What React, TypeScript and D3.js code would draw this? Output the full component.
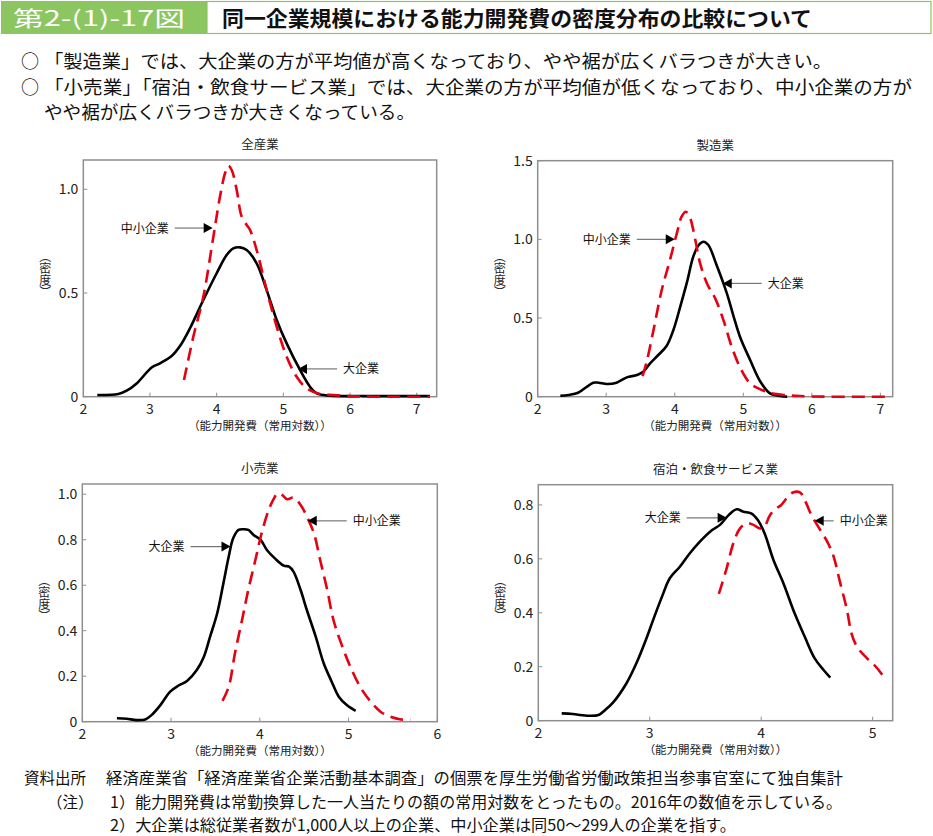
import React from "react";
import * as d3 from "d3";

// ---------- DATA ----------
type Pt = [number, number];

const xTicksAll = [2, 3, 4, 5, 6, 7];
const xTicksRetail = [2, 3, 4, 5, 6];
const xTicksHotel = [2, 3, 4, 5];
const yTicksAll = [0, 0.5, 1.0];
const yTicksMfg = [0, 0.5, 1.0, 1.5];
const yTicksRetail = [0, 0.2, 0.4, 0.6, 0.8, 1.0];
const yTicksHotel = [0, 0.2, 0.4, 0.6, 0.8];

const panelTitles = ["全産業", "製造業", "小売業", "宿泊・飲食サービス業"];
const largeLabel = "大企業";
const smallLabel = "中小企業";

// 全産業
const allLarge: Pt[] = [
  [2.21, 0.008], [2.525, 0.013], [2.65, 0.029], [2.8, 0.064], [3.025, 0.141], [3.15, 0.161],
  [3.325, 0.196], [3.45, 0.244], [3.6, 0.33], [3.8, 0.466], [4.0, 0.595], [4.15, 0.683],
  [4.25, 0.715], [4.35, 0.72], [4.45, 0.707], [4.6, 0.643], [4.75, 0.514], [4.9, 0.37],
  [5.05, 0.257], [5.25, 0.129], [5.4, 0.048], [5.5, 0.016], [5.7, 0.005], [6.2, 0.003], [7.2, 0.003],
];
const allSmall: Pt[] = [
  [3.51, 0.08], [3.65, 0.289], [3.8, 0.482], [3.95, 0.77], [4.05, 0.965], [4.125, 1.077],
  [4.175, 1.113], [4.225, 1.093], [4.3, 0.997], [4.375, 0.868], [4.45, 0.828], [4.5, 0.804],
  [4.6, 0.707], [4.75, 0.514], [4.9, 0.338], [5.05, 0.193], [5.2, 0.096], [5.35, 0.04],
  [5.55, 0.013], [5.75, 0.008], [5.95, 0.003], [6.35, 0.0], [7.2, 0.0],
];

// 製造業
const mfgLarge: Pt[] = [
  [2.33, 0.006], [2.45, 0.011], [2.59, 0.025], [2.72, 0.064], [2.81, 0.089], [2.89, 0.089],
  [3.01, 0.081], [3.15, 0.089], [3.3, 0.123], [3.45, 0.138], [3.54, 0.159], [3.64, 0.212],
  [3.76, 0.265], [3.88, 0.322], [3.98, 0.424], [4.08, 0.572], [4.18, 0.731], [4.27, 0.89],
  [4.35, 0.964], [4.42, 0.985], [4.49, 0.964], [4.61, 0.837], [4.76, 0.657], [4.86, 0.508],
  [4.96, 0.371], [5.1, 0.233], [5.25, 0.095], [5.39, 0.021], [5.54, 0.004], [5.64, 0.0],
];
const mfgSmall: Pt[] = [
  [3.53, 0.131], [3.59, 0.222], [3.69, 0.424], [3.81, 0.678], [3.93, 0.869], [4.03, 1.038],
  [4.1, 1.144], [4.16, 1.176], [4.22, 1.14], [4.3, 0.996], [4.37, 0.847], [4.47, 0.72],
  [4.59, 0.625], [4.71, 0.487], [4.83, 0.318], [4.96, 0.18], [5.1, 0.085], [5.25, 0.047],
  [5.39, 0.025], [5.59, 0.011], [5.83, 0.004], [6.27, 0.0], [7.07, 0.0],
];

// 小売業
const retailLarge: Pt[] = [
  [2.39, 0.015], [2.5, 0.013], [2.61, 0.007], [2.71, 0.01], [2.78, 0.029], [2.88, 0.073],
  [2.99, 0.132], [3.08, 0.158], [3.18, 0.179], [3.29, 0.227], [3.37, 0.286], [3.44, 0.374],
  [3.52, 0.477], [3.59, 0.609], [3.65, 0.726], [3.7, 0.806], [3.76, 0.843], [3.82, 0.846],
  [3.87, 0.843], [3.93, 0.821], [4.01, 0.799], [4.08, 0.755], [4.17, 0.718], [4.27, 0.686],
  [4.33, 0.682], [4.38, 0.66], [4.46, 0.579], [4.53, 0.491], [4.63, 0.374], [4.72, 0.257],
  [4.81, 0.176], [4.89, 0.11], [4.98, 0.073], [5.08, 0.048],
];
const retailSmall: Pt[] = [
  [3.58, 0.092], [3.65, 0.154], [3.72, 0.301], [3.8, 0.447], [3.87, 0.579], [3.95, 0.711],
  [4.02, 0.828], [4.1, 0.931], [4.16, 0.982], [4.2, 1.004], [4.25, 0.997], [4.31, 0.978],
  [4.38, 0.985], [4.46, 0.953], [4.53, 0.902], [4.61, 0.828], [4.68, 0.711], [4.76, 0.579],
  [4.83, 0.447], [4.93, 0.33], [5.02, 0.242], [5.13, 0.154], [5.25, 0.088], [5.36, 0.044],
  [5.47, 0.022], [5.59, 0.01], [5.7, 0.01],
];

// 宿泊・飲食サービス業
const hotelLarge: Pt[] = [
  [2.21, 0.027], [2.31, 0.025], [2.42, 0.019], [2.54, 0.021], [2.6, 0.04], [2.67, 0.067],
  [2.79, 0.138], [2.88, 0.213], [2.97, 0.305], [3.03, 0.373], [3.11, 0.46], [3.18, 0.528],
  [3.27, 0.571], [3.36, 0.621], [3.45, 0.664], [3.56, 0.707], [3.63, 0.726], [3.71, 0.763],
  [3.78, 0.784], [3.84, 0.775], [3.91, 0.769], [3.97, 0.744], [4.03, 0.695], [4.11, 0.596],
  [4.2, 0.509], [4.3, 0.398], [4.39, 0.312], [4.48, 0.231], [4.56, 0.188], [4.62, 0.16],
];
const hotelSmall: Pt[] = [
  [3.62, 0.47], [3.69, 0.565], [3.75, 0.658], [3.81, 0.713], [3.87, 0.732], [3.93, 0.726],
  [3.99, 0.713], [4.03, 0.72], [4.08, 0.763], [4.14, 0.788], [4.18, 0.8], [4.23, 0.825],
  [4.29, 0.847], [4.35, 0.846], [4.39, 0.819], [4.45, 0.763], [4.53, 0.707], [4.6, 0.658],
  [4.65, 0.608], [4.71, 0.509], [4.77, 0.41], [4.81, 0.324], [4.86, 0.274], [4.95, 0.231],
  [5.03, 0.2], [5.11, 0.157],
];

// arrow tips in data coordinates [x, y]
const allArrowSmall: Pt = [3.94, 0.813];
const allArrowLarge: Pt = [5.22, 0.134];
const mfgArrowSmall: Pt = [4.0, 1.0];
const mfgArrowLarge: Pt = [4.7, 0.72];
const retailArrowLarge: Pt = [3.67, 0.77];
const retailArrowSmall: Pt = [4.54, 0.883];
const hotelArrowLarge: Pt = [3.69, 0.752];
const hotelArrowSmall: Pt = [4.48, 0.741];

const headerLabel = "第2-(1)-17図";
const headerTitle = "同一企業規模における能力開発費の密度分布の比較について";
const bullets = [
  "「製造業」では、大企業の方が平均値が高くなっており、やや裾が広くバラつきが大きい。",
  "「小売業」「宿泊・飲食サービス業」では、大企業の方が平均値が低くなっており、中小企業の方が",
];
const bulletCont = "やや裾が広くバラつきが大きくなっている。";
const xAxisLabel = "（能力開発費（常用対数））";
const yAxisLabel = "（密度）";
const notes = [
  "資料出所",
  "経済産業省「経済産業省企業活動基本調査」の個票を厚生労働省労働政策担当参事官室にて独自集計",
  "（注）",
  "1）能力開発費は常勤換算した一人当たりの額の常用対数をとったもの。2016年の数値を示している。",
  "2）大企業は総従業者数が1,000人以上の企業、中小企業は同50～299人の企業を指す。",
];

// ---------- STYLE ----------
const FONT = "'Noto Sans CJK JP', 'Noto Sans', sans-serif";
const RED = "#e50012";
const GREEN = "#8cc660";

interface Ann {
  text: string;
  tip: Pt;
  dir: "right" | "left"; // direction arrow points
  len: number;
}

interface PanelProps {
  title: string;
  left: number;
  top: number;
  width: number;
  height: number;
  xMax: number;
  yMax: number;
  xTicks: number[];
  yTicks: number[];
  large: Pt[];
  small: Pt[];
  anns: Ann[];
}

function Panel(p: PanelProps) {
  const x = d3.scaleLinear().domain([2, p.xMax]).range([p.left, p.left + p.width]);
  const y = d3.scaleLinear().domain([0, p.yMax]).range([p.top + p.height, p.top]);
  const line = d3
    .line<Pt>()
    .x((d) => x(d[0]))
    .y((d) => y(d[1]))
    .curve(d3.curveCatmullRom.alpha(0.5));
  const bottom = p.top + p.height;
  const cx = p.left + p.width / 2;
  const fmt = (v: number) => (v === 0 ? "0" : v.toFixed(1));
  return (
    <g>
      <text x={cx} y={p.top - 11} textAnchor="middle" fontSize={12.5} fontFamily={FONT} fill="#222">
        {p.title}
      </text>
      <rect x={p.left} y={p.top} width={p.width} height={p.height} fill="none" stroke="#8f8f8f" strokeWidth={1.5} />
      {p.xTicks.map((t) => (
        <g key={"x" + t}>
          <line x1={x(t)} x2={x(t)} y1={bottom} y2={bottom - 4} stroke="#8f8f8f" strokeWidth={1} />
          <text x={x(t)} y={bottom + 17} textAnchor="middle" fontSize={14} fontFamily={FONT} fill="#222">
            {t}
          </text>
        </g>
      ))}
      {p.yTicks.map((t) => (
        <g key={"y" + t}>
          <line x1={p.left} x2={p.left + 4} y1={y(t)} y2={y(t)} stroke="#8f8f8f" strokeWidth={1} />
          <text x={p.left - 5} y={y(t) + 5} textAnchor="end" fontSize={14} fontFamily={FONT} fill="#222">
            {fmt(t)}
          </text>
        </g>
      ))}
      <text x={cx} y={bottom + 33} textAnchor="middle" fontSize={11.5} fontFamily={FONT} fill="#222">
        {xAxisLabel}
      </text>
      <text
        x={p.left - 38}
        y={p.top + p.height / 2 - 4}
        textAnchor="middle"
        fontSize={12}
        fontFamily={FONT}
        fill="#222"
        style={{ writingMode: "vertical-rl" } as React.CSSProperties}
      >
        {yAxisLabel}
      </text>
      <path d={line(p.large) || ""} fill="none" stroke="#000" strokeWidth={2.6} strokeLinejoin="round" />
      <path d={line(p.small) || ""} fill="none" stroke={RED} strokeWidth={2.6} strokeDasharray="13,7" />
      {p.anns.map((a, i) => {
        const tx = x(a.tip[0]);
        const ty = y(a.tip[1]);
        const s = a.dir === "right" ? -1 : 1; // tail side
        const tail = tx + s * a.len;
        const head = `M${tx},${ty} L${tx + s * 9},${ty - 5} L${tx + s * 9},${ty + 5} Z`;
        return (
          <g key={i}>
            <line x1={tail} x2={tx + s * 8} y1={ty} y2={ty} stroke="#777" strokeWidth={1.2} />
            <path d={head} fill="#000" />
            <text
              x={tail + s * 6}
              y={ty + 4.5}
              textAnchor={a.dir === "right" ? "end" : "start"}
              fontSize={12}
              fontFamily={FONT}
              fill="#111"
            >
              {a.text}
            </text>
          </g>
        );
      })}
    </g>
  );
}

export default function App() {
  return (
    <svg
      width={933}
      height={836}
      style={{ position: "absolute", left: 0, top: 0, background: "#fff" }}
      xmlns="http://www.w3.org/2000/svg"
    >
      <rect x={0} y={0} width={933} height={836} fill="#fff" />
      {/* header */}
      <rect x={1} y={1} width={206} height={33} fill={GREEN} />
      <rect x={207} y={1.5} width={724} height={32} fill="#fff" stroke={GREEN} strokeWidth={1.2} />
      <text x={13} y={26} fontSize={21} fontFamily={FONT} fill="#fff" textLength={172} lengthAdjust="spacingAndGlyphs">
        {headerLabel}
      </text>
      <text x={222} y={26} fontSize={21} fontWeight={700} fontFamily={FONT} fill="#111" textLength={590} lengthAdjust="spacingAndGlyphs">
        {headerTitle}
      </text>
      {/* bullets */}
      <text x={21} y={68} fontSize={18} fontFamily={FONT} fill="#111">○</text>
      <text x={44} y={68} fontSize={18} fontFamily={FONT} fill="#111" textLength={788} lengthAdjust="spacingAndGlyphs">{bullets[0]}</text>
      <text x={21} y={94} fontSize={18} fontFamily={FONT} fill="#111">○</text>
      <text x={44} y={94} fontSize={18} fontFamily={FONT} fill="#111" textLength={868} lengthAdjust="spacingAndGlyphs">{bullets[1]}</text>
      <text x={44} y={119} fontSize={18} fontFamily={FONT} fill="#111" textLength={371} lengthAdjust="spacingAndGlyphs">{bulletCont}</text>

      <Panel
        title={panelTitles[0]}
        left={83.3}
        top={160}
        width={353.4}
        height={236.7}
        xMax={7.3}
        yMax={1.141}
        xTicks={xTicksAll}
        yTicks={yTicksAll}
        large={allLarge}
        small={allSmall}
        anns={[
          { text: smallLabel, tip: allArrowSmall, dir: "right", len: 38 },
          { text: largeLabel, tip: allArrowLarge, dir: "left", len: 39 },
        ]}
      />
      <Panel
        title={panelTitles[1]}
        left={537.7}
        top={160.7}
        width={355}
        height={236}
        xMax={7.18}
        yMax={1.5}
        xTicks={xTicksAll}
        yTicks={yTicksMfg}
        large={mfgLarge}
        small={mfgSmall}
        anns={[
          { text: smallLabel, tip: mfgArrowSmall, dir: "right", len: 38 },
          { text: largeLabel, tip: mfgArrowLarge, dir: "left", len: 39 },
        ]}
      />
      <Panel
        title={panelTitles[2]}
        left={82.3}
        top={484}
        width={355}
        height={237.7}
        xMax={6}
        yMax={1.045}
        xTicks={xTicksRetail}
        yTicks={yTicksRetail}
        large={retailLarge}
        small={retailSmall}
        anns={[
          { text: largeLabel, tip: retailArrowLarge, dir: "right", len: 40 },
          { text: smallLabel, tip: retailArrowSmall, dir: "left", len: 39 },
        ]}
      />
      <Panel
        title={panelTitles[3]}
        left={538.3}
        top={484.7}
        width={354.4}
        height={236}
        xMax={5.18}
        yMax={0.875}
        xTicks={xTicksHotel}
        yTicks={yTicksHotel}
        large={hotelLarge}
        small={hotelSmall}
        anns={[
          { text: largeLabel, tip: hotelArrowLarge, dir: "right", len: 40 },
          { text: smallLabel, tip: hotelArrowSmall, dir: "left", len: 19 },
        ]}
      />

      {/* notes */}
      <text x={24} y={784} fontSize={15.5} fontFamily={FONT} fill="#111">{notes[0]}</text>
      <text x={106} y={784} fontSize={15.5} fontFamily={FONT} fill="#111" textLength={737} lengthAdjust="spacingAndGlyphs">{notes[1]}</text>
      <text x={47} y={808} fontSize={15.5} fontFamily={FONT} fill="#111">{notes[2]}</text>
      <text x={110} y={808} fontSize={15.5} fontFamily={FONT} fill="#111" textLength={732} lengthAdjust="spacingAndGlyphs">{notes[3]}</text>
      <text x={110} y={831} fontSize={15.5} fontFamily={FONT} fill="#111" textLength={626} lengthAdjust="spacingAndGlyphs">{notes[4]}</text>
    </svg>
  );
}
